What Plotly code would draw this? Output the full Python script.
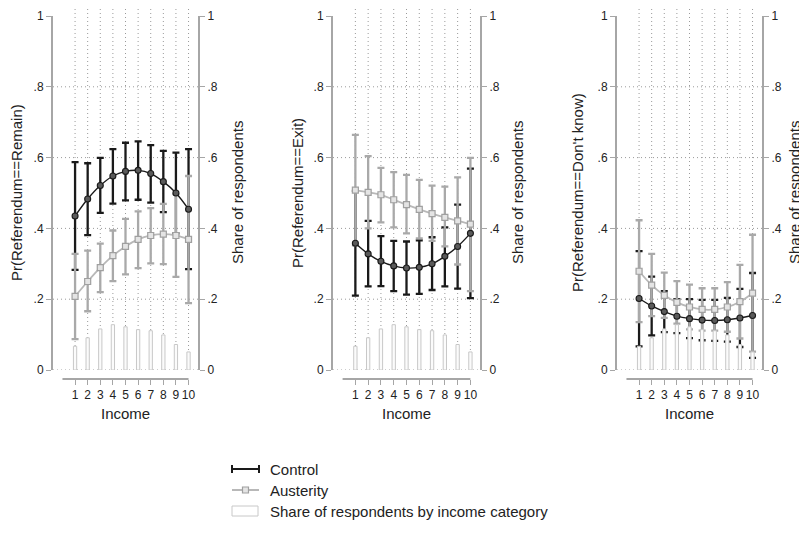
import plotly.graph_objects as go

# the page body has an 8px margin; size the figure so page pixels map 1:1
OFF = 8
W, H = 807 - OFF, 534 - OFF

income = [1, 2, 3, 4, 5, 6, 7, 8, 9, 10]
share = [0.067, 0.091, 0.116, 0.128, 0.122, 0.114, 0.111, 0.099, 0.072, 0.051]

remain_ctrl = [0.435, 0.483, 0.521, 0.548, 0.561, 0.564, 0.555, 0.532, 0.500, 0.454]
remain_ctrl_hi = [0.587, 0.584, 0.599, 0.624, 0.642, 0.646, 0.635, 0.619, 0.614, 0.624]
remain_ctrl_lo = [0.283, 0.381, 0.444, 0.470, 0.479, 0.481, 0.473, 0.446, 0.386, 0.285]
remain_aust = [0.208, 0.250, 0.289, 0.323, 0.349, 0.369, 0.380, 0.384, 0.380, 0.369]
remain_aust_hi = [0.328, 0.337, 0.357, 0.394, 0.427, 0.448, 0.457, 0.469, 0.497, 0.548]
remain_aust_lo = [0.087, 0.166, 0.220, 0.251, 0.270, 0.288, 0.301, 0.299, 0.263, 0.189]

exit_ctrl = [0.358, 0.328, 0.307, 0.294, 0.288, 0.290, 0.300, 0.321, 0.349, 0.386]
exit_ctrl_hi = [0.506, 0.421, 0.378, 0.365, 0.363, 0.366, 0.375, 0.403, 0.467, 0.569]
exit_ctrl_lo = [0.210, 0.236, 0.237, 0.223, 0.213, 0.215, 0.226, 0.236, 0.230, 0.203]
exit_aust = [0.508, 0.502, 0.495, 0.481, 0.467, 0.454, 0.442, 0.431, 0.421, 0.412]
exit_aust_hi = [0.664, 0.604, 0.571, 0.559, 0.551, 0.537, 0.521, 0.518, 0.544, 0.599]
exit_aust_lo = [0.352, 0.400, 0.417, 0.403, 0.386, 0.372, 0.365, 0.349, 0.298, 0.223]

dk_ctrl = [0.202, 0.181, 0.165, 0.152, 0.145, 0.141, 0.140, 0.142, 0.147, 0.154]
dk_ctrl_hi = [0.336, 0.264, 0.223, 0.200, 0.200, 0.198, 0.198, 0.204, 0.229, 0.274]
dk_ctrl_lo = [0.067, 0.098, 0.107, 0.104, 0.090, 0.084, 0.082, 0.080, 0.065, 0.034]
dk_aust = [0.279, 0.240, 0.211, 0.191, 0.178, 0.171, 0.171, 0.178, 0.193, 0.217]
dk_aust_hi = [0.423, 0.328, 0.275, 0.251, 0.241, 0.231, 0.231, 0.248, 0.297, 0.382]
dk_aust_lo = [0.135, 0.152, 0.147, 0.131, 0.115, 0.111, 0.111, 0.108, 0.089, 0.052]

y_ticks = [0, 0.2, 0.4, 0.6, 0.8, 1]
y_ticktext = ["0", ".2", ".4", ".6", ".8", "1"]
h_grid = [0, 0.2, 0.4, 0.6, 0.8]

panel_titles = ["Pr(Referendum==Remain)", "Pr(Referendum==Exit)", "Pr(Referendum==Don't know)"]
right_title = "Share of respondents"
x_title = "Income"
legend_labels = ["Control", "Austerity", "Share of respondents by income category"]

panels = [
    (remain_ctrl, remain_ctrl_lo, remain_ctrl_hi, remain_aust, remain_aust_lo, remain_aust_hi),
    (exit_ctrl, exit_ctrl_lo, exit_ctrl_hi, exit_aust, exit_aust_lo, exit_aust_hi),
    (dk_ctrl, dk_ctrl_lo, dk_ctrl_hi, dk_aust, dk_aust_lo, dk_aust_hi),
]


def px(x):
    return (x - OFF) / W


def py(y):
    return 1 - (y - OFF) / H


# layout geometry (page pixels)
x_dom_px = [(53, 198), (333, 480), (617, 762)]
left_title_px = [17, 298, 578]
right_title_px = [238, 518, 795]
y_top_px, y_bot_px = 16, 370
x_axis_px = 379

AX = "#a6a6a6"
GRID = "#9a9a9a"
GRID_DASH = "1px,3px"
BLACK = "#1a1a1a"
GREY = "#a9a9a9"
FONT = "Liberation Sans"
TXT = "#222222"

fig = go.Figure()
shapes = []
annotations = []
layout = {}

for i, (c, clo, chi, a, alo, ahi) in enumerate(panels):
    n = i + 1
    xa = "x" if n == 1 else f"x{n}"
    yl = "y" if n == 1 else f"y{2 * n - 1}"
    yr = f"y{2 * n}"

    def err(center, lo, hi):
        return dict(type="data", symmetric=False,
                    array=[h - m for h, m in zip(hi, center)],
                    arrayminus=[m - l for m, l in zip(center, lo)])

    e = err(c, clo, chi)
    e.update(color=BLACK, thickness=2.3, width=3.5)
    fig.add_trace(go.Scatter(x=income, y=c, mode="markers", xaxis=xa, yaxis=yl,
                             marker=dict(size=1, color="rgba(0,0,0,0)"),
                             error_y=e, showlegend=False, hoverinfo="skip"))
    e = err(a, alo, ahi)
    e.update(color=GREY, thickness=2.3, width=3.5)
    fig.add_trace(go.Scatter(x=income, y=a, mode="markers", xaxis=xa, yaxis=yl,
                             marker=dict(size=1, color="rgba(0,0,0,0)"),
                             error_y=e, showlegend=False, hoverinfo="skip"))
    fig.add_trace(go.Scatter(x=income, y=c, mode="lines+markers", xaxis=xa, yaxis=yl,
                             line=dict(color=BLACK, width=1.4, shape="spline"),
                             marker=dict(symbol="circle", size=6, color="#5a5a5a",
                                         line=dict(color=BLACK, width=1.1)),
                             name=legend_labels[0], showlegend=False))
    fig.add_trace(go.Scatter(x=income, y=a, mode="lines+markers", xaxis=xa, yaxis=yl,
                             line=dict(color="#b8b8b8", width=1.8, shape="spline"),
                             marker=dict(symbol="square", size=6, color="#e4e4e4",
                                         line=dict(color="#a0a0a0", width=1.2)),
                             name=legend_labels[1], showlegend=False))
    fig.add_trace(go.Bar(x=income, y=share, xaxis=xa, yaxis=yr, width=0.26,
                         marker=dict(color="#fbfbfb", line=dict(color="#c8c8c8", width=1)),
                         name=legend_labels[2], showlegend=False))

    x0, x1 = x_dom_px[i]
    axkey = "xaxis" if n == 1 else f"xaxis{n}"
    layout[axkey] = dict(domain=[px(x0), px(x1)], range=[-0.75, 10.75],
                         anchor="free", position=py(x_axis_px), automargin=False,
                         ticklabeloverflow="allow",
                         showline=False, showgrid=False, zeroline=False,
                         tickvals=income, ticks="outside", ticklen=5,
                         tickwidth=1.3, tickcolor=AX,
                         tickfont=dict(family=FONT, size=12, color=TXT))
    ylkey = "yaxis" if n == 1 else f"yaxis{2 * n - 1}"
    yrkey = f"yaxis{2 * n}"
    common_y = dict(domain=[py(y_bot_px), py(y_top_px)], range=[0, 1], automargin=False,
                    ticklabeloverflow="allow",
                    showline=True, linecolor=AX, linewidth=2,
                    showgrid=False, zeroline=False,
                    tickvals=y_ticks, ticktext=y_ticktext,
                    ticks="outside", ticklen=5, tickwidth=1.3, tickcolor=AX,
                    tickfont=dict(family=FONT, size=12, color=TXT))
    layout[ylkey] = dict(common_y, anchor=xa, side="left")
    layout[yrkey] = dict(common_y, anchor=xa, side="right", overlaying=yl)

    # grid lines
    for v in income:
        shapes.append(dict(type="line", xref=xa, yref="paper", x0=v, x1=v,
                           y0=py(y_bot_px), y1=1.0, layer="below",
                           line=dict(color=GRID, width=1, dash=GRID_DASH)))
    for v in h_grid:
        shapes.append(dict(type="line", xref=f"{xa} domain", yref=yl, x0=0, x1=1,
                           y0=v, y1=v, layer="below",
                           line=dict(color=GRID, width=1, dash=GRID_DASH)))
    # x axis line spanning 0..10
    shapes.append(dict(type="line", xref=xa, yref="paper", x0=0, x1=10,
                       y0=py(x_axis_px), y1=py(x_axis_px),
                       line=dict(color=AX, width=2)))

    mid = py((y_top_px + y_bot_px) / 2)
    annotations.append(dict(text=panel_titles[i], xref="paper", yref="paper",
                            x=px(left_title_px[i]), y=mid, textangle=-90,
                            showarrow=False, xanchor="center", yanchor="middle",
                            font=dict(family=FONT, size=15, color=TXT)))
    annotations.append(dict(text=right_title, xref="paper", yref="paper",
                            x=px(right_title_px[i]), y=mid, textangle=-90,
                            showarrow=False, xanchor="center", yanchor="middle",
                            font=dict(family=FONT, size=15, color=TXT)))
    annotations.append(dict(text=x_title, xref=xa, yref="paper", x=5, y=py(413),
                            showarrow=False, xanchor="center", yanchor="middle",
                            font=dict(family=FONT, size=15, color=TXT)))

# manual legend
leg_rows = [469, 490, 511]
sx0, sx1 = 232, 259
ry = py(leg_rows[0])
shapes.append(dict(type="line", xref="paper", yref="paper", x0=px(sx0), x1=px(sx1),
                   y0=ry, y1=ry, line=dict(color=BLACK, width=2)))
for sx in (sx0, sx1):
    shapes.append(dict(type="line", xref="paper", yref="paper", x0=px(sx), x1=px(sx),
                       y0=py(leg_rows[0] - 4), y1=py(leg_rows[0] + 4),
                       line=dict(color=BLACK, width=2)))
ry = py(leg_rows[1])
shapes.append(dict(type="line", xref="paper", yref="paper", x0=px(sx0), x1=px(sx1),
                   y0=ry, y1=ry, line=dict(color="#b8b8b8", width=2)))
shapes.append(dict(type="rect", xref="paper", yref="paper",
                   x0=px(242.5), x1=px(248.5), y0=py(leg_rows[1] - 3), y1=py(leg_rows[1] + 3),
                   fillcolor="#e4e4e4", line=dict(color="#a0a0a0", width=1.2)))
shapes.append(dict(type="rect", xref="paper", yref="paper",
                   x0=px(sx0), x1=px(sx1 - 1), y0=py(leg_rows[2] - 5), y1=py(leg_rows[2] + 5),
                   fillcolor="white", line=dict(color="#c8c8c8", width=1)))
for lab, r in zip(legend_labels, leg_rows):
    annotations.append(dict(text=lab, xref="paper", yref="paper", x=px(268), y=py(r),
                            showarrow=False, xanchor="left", yanchor="middle",
                            font=dict(family=FONT, size=15, color=TXT)))

fig.update_layout(width=W, height=H, margin=dict(l=0, r=0, t=0, b=0, autoexpand=False),
                  paper_bgcolor="white", plot_bgcolor="white",
                  showlegend=False, shapes=shapes, annotations=annotations,
                  font=dict(family=FONT, color=TXT), **layout)

fig.write_html("out.html")
